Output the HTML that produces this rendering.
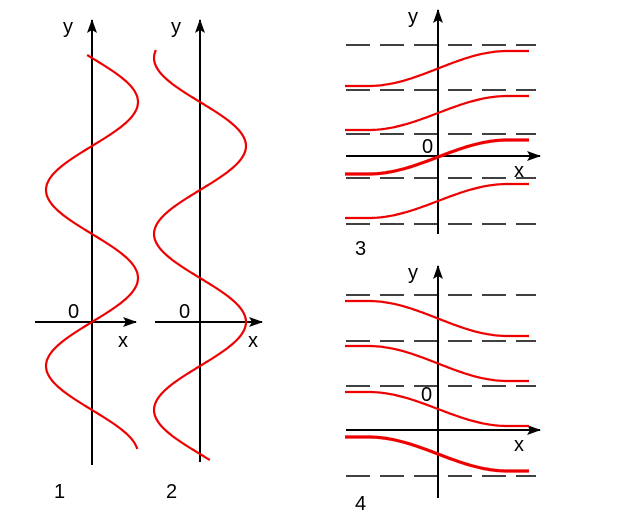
<!DOCTYPE html>
<html><head><meta charset="utf-8"><style>
html,body{margin:0;padding:0;background:#fff;}
svg{display:block;}
text{font-family:"Liberation Sans",sans-serif;font-size:20px;fill:#000;}
</style></head><body>
<svg id="s" width="619" height="521" viewBox="0 0 619 521">
<defs><marker id="a" markerWidth="14" markerHeight="10" refX="13" refY="5" orient="auto" markerUnits="userSpaceOnUse"><path d="M0,0 L14,5 L0,10 L3,5 Z" fill="#000"/></marker></defs>
<g stroke="#000" stroke-width="2" fill="none">
<line x1="92" y1="465" x2="92" y2="20" marker-end="url(#a)"/>
<line x1="35" y1="322" x2="136" y2="322" marker-end="url(#a)"/>
<line x1="200" y1="462" x2="200" y2="20" marker-end="url(#a)"/>
<line x1="155" y1="322" x2="262" y2="322" marker-end="url(#a)"/>
<line x1="438" y1="234" x2="438" y2="10" marker-end="url(#a)"/>
<line x1="346" y1="156" x2="540" y2="156" marker-end="url(#a)"/>
<line x1="438" y1="498" x2="438" y2="266" marker-end="url(#a)"/>
<line x1="346" y1="430" x2="540" y2="430" marker-end="url(#a)"/>
</g>
<g stroke="#000" stroke-width="1.6" stroke-dasharray="24,10" id="dash"></g>
<g stroke="#e00" stroke-width="2.2" fill="none" id="red"></g>
<text x="63" y="33">y</text><text x="68" y="318">0</text><text x="118" y="347">x</text><text x="54" y="498">1</text>
<text x="171" y="33">y</text><text x="179" y="318">0</text><text x="248" y="347">x</text><text x="166" y="498">2</text>
<text x="408" y="23">y</text><text x="422" y="153">0</text><text x="514" y="177">x</text><text x="355" y="255">3</text>
<text x="408" y="279">y</text><text x="421" y="401">0</text><text x="514" y="451">x</text><text x="355" y="510">4</text>
</svg>
<script>
var ns="http://www.w3.org/2000/svg";
function add(g,tag,attrs){var e=document.createElementNS(ns,tag);for(var k in attrs)e.setAttribute(k,attrs[k]);document.getElementById(g).appendChild(e);}
[45,90,134,178,224,295,341,386,476].forEach(function(y){add("dash","line",{x1:346,y1:y,x2:536,y2:y});});
function pts(f,a,b){var s="";for(var y=a;y<=b;y+=2){s+=f(y).toFixed(1)+","+y+" ";}return s;}
add("red","polyline",{points:pts(function(y){return 92-46*Math.sin((y-322)*Math.PI/88);},55,450)});
add("red","polyline",{points:pts(function(y){return 200+46*Math.cos((y-322)*Math.PI/88);},50,460)});
function sig(y0,y1,w){var s="";for(var x=345;x<=530;x+=2){var t=x<368?0:x>508?1:(1-Math.cos((x-368)/140*Math.PI))/2;s+=x+","+(y0+(y1-y0)*t).toFixed(1)+" ";}add("red","polyline",{points:s,"stroke-width":w});}
sig(86,51,2.2);sig(130,96,2.2);sig(174,140,3.2);sig(218,184,2.2);
sig(301,336,2.2);sig(346,381,2.2);sig(392,426,2.2);sig(437,471,3.2);
</script>
</body></html>
